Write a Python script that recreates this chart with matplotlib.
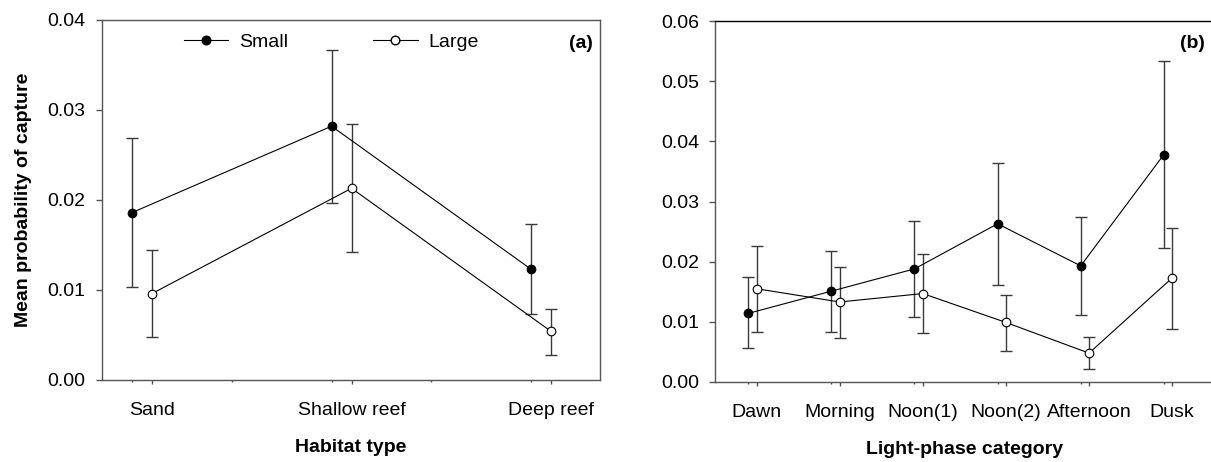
import matplotlib
matplotlib.use("Agg")
import matplotlib.pyplot as plt
from matplotlib.lines import Line2D
import numpy as np

plt.rcParams['font.family'] = ['Liberation Sans', 'DejaVu Sans']

# ---- data ----
habitat = ['Sand', 'Shallow reef', 'Deep reef']
small_a = [0.0186, 0.0282, 0.0123]
small_a_hi = [0.0269, 0.0367, 0.0173]
small_a_lo = [0.0103, 0.0197, 0.0073]
large_a = [0.0096, 0.0213, 0.0054]
large_a_hi = [0.0144, 0.0284, 0.0079]
large_a_lo = [0.0048, 0.0142, 0.0028]

light = ['Dawn', 'Morning', 'Noon(1)', 'Noon(2)', 'Afternoon', 'Dusk']
small_b = [0.0114, 0.0151, 0.0188, 0.0263, 0.0193, 0.0378]
small_b_hi = [0.0174, 0.0218, 0.0268, 0.0364, 0.0275, 0.0534]
small_b_lo = [0.0056, 0.0083, 0.0108, 0.0162, 0.0112, 0.0222]
large_b = [0.0155, 0.0133, 0.0147, 0.0099, 0.0048, 0.0173]
large_b_hi = [0.0226, 0.0191, 0.0212, 0.0145, 0.0075, 0.0256]
large_b_lo = [0.0083, 0.0073, 0.0082, 0.0051, 0.0021, 0.0088]

W, H = 1211, 462
fig = plt.figure(figsize=(W / 100, H / 100), dpi=100)
ax1 = fig.add_axes([101.5 / W, (H - 380) / H, (600 - 101.5) / W, 360 / H])
ax2 = fig.add_axes([715 / W, (H - 382) / H, (1213.7 - 715) / W, 361 / H])

FS = 14
ERRC = '#3a3a3a'
SPC = '#555555'
OFF = 0.1


def draw(ax, cats, s, s_hi, s_lo, l, l_hi, l_lo):
    x = np.arange(len(cats))
    xs = x - OFF
    s = np.array(s); l = np.array(l)
    ax.errorbar(xs, s, yerr=[s - np.array(s_lo), np.array(s_hi) - s], fmt='none',
                ecolor=ERRC, elinewidth=1.0, capsize=4, capthick=1.0, zorder=2)
    ax.errorbar(x, l, yerr=[l - np.array(l_lo), np.array(l_hi) - l], fmt='none',
                ecolor=ERRC, elinewidth=1.0, capsize=4, capthick=1.0, zorder=2)
    ax.plot(xs, s, '-', color='black', lw=0.8, marker='o', ms=6.2,
            mfc='black', mec='black', mew=0.8, zorder=3)
    ax.plot(x, l, '-', color='black', lw=0.8, marker='o', ms=6.2,
            mfc='white', mec='black', mew=0.8, zorder=3)
    ax.set_xticks(x)
    ax.set_xticklabels(cats, fontsize=FS)
    ax.tick_params(axis='x', which='major', direction='out', length=3, width=1,
                   color=SPC, pad=12.5)
    ax.tick_params(axis='y', which='major', direction='out', length=4, width=1,
                   color=SPC, pad=7.5, labelsize=FS)
    ax.tick_params(axis='x', which='minor', direction='out', length=1.2, width=1,
                   color=SPC)
    for sp in ax.spines.values():
        sp.set_color(SPC)
        sp.set_linewidth(1.0)


draw(ax1, habitat, small_a, small_a_hi, small_a_lo, large_a, large_a_hi, large_a_lo)
draw(ax2, light, small_b, small_b_hi, small_b_lo, large_b, large_b_hi, large_b_lo)

ax1.set_xlim(-0.253, 2.245)
ax1.set_ylim(0, 0.04)
ax1.set_yticks([0, 0.01, 0.02, 0.03, 0.04])
ax1.set_yticklabels(['0.00', '0.01', '0.02', '0.03', '0.04'])
ax1.set_xticks(np.arange(-OFF, 2.0, 0.5), minor=True)

ax2.set_xlim(-0.5, 5.5)
ax2.set_ylim(0, 0.06)
ax2.set_yticks([0, 0.01, 0.02, 0.03, 0.04, 0.05, 0.06])
ax2.set_yticklabels(['0.00', '0.01', '0.02', '0.03', '0.04', '0.05', '0.06'])
ax2.set_xticks(np.arange(len(light)) - OFF, minor=True)
ax2.spines['top'].set_color('black')

ax1.set_xlabel('Habitat type', fontsize=FS, fontweight='bold', labelpad=14.5)
ax2.set_xlabel('Light-phase category', fontsize=FS, fontweight='bold', labelpad=14.5)
ax1.set_ylabel('Mean probability of capture', fontsize=FS, fontweight='bold', labelpad=11)

ax1.text(0.986, 0.934, '(a)', transform=ax1.transAxes, ha='right', va='center',
         fontsize=FS, fontweight='bold')
ax2.text(0.9826, 0.937, '(b)', transform=ax2.transAxes, ha='right', va='center',
         fontsize=FS, fontweight='bold')

handles = [Line2D([], [], color='black', lw=0.8, marker='o', ms=6.2, mfc='black', mec='black'),
           Line2D([], [], color='black', lw=0.8, marker='o', ms=6.2, mfc='white', mec='black')]
ax1.legend(handles, ['Small', 'Large'], ncol=2, frameon=False, loc='center left',
           bbox_to_anchor=(0.1655, 0.938), borderpad=0, borderaxespad=0,
           handlelength=2.27, handletextpad=0.55, columnspacing=4.4, fontsize=FS)

fig.savefig('out.png', dpi=100)
